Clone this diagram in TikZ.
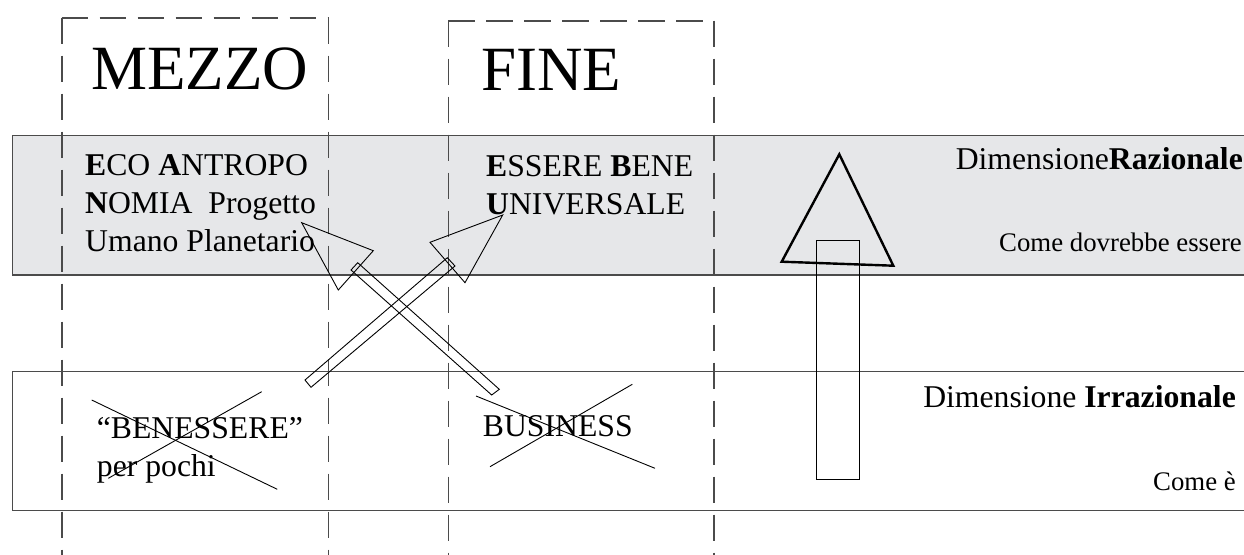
\documentclass[tikz,border=0pt]{standalone}
\usepackage{fontspec}
\setmainfont{Liberation Serif}
\definecolor{bandgray}{RGB}{230,231,233}
\definecolor{rimgray}{RGB}{75,75,75}

\begin{document}
\begin{tikzpicture}[x=1pt,y=-1pt,
	txt/.style={inner sep=0pt, anchor=base west, font=\fontsize{31.7}{38.3}\selectfont},
	bigtxt/.style={inner sep=0pt, anchor=base west, font=\fontsize{63}{70}\selectfont},
	smalltxt/.style={inner sep=0pt, anchor=base east, font=\fontsize{26.8}{32}\selectfont},
	colbox/.style={draw=rimgray, line width=1.6pt, dash pattern=on 26.5pt off 11.5pt},
	band/.style={draw=rimgray, line width=1.4pt},
	hollow/.style={draw=black, line width=0.9pt, line join=miter},
	strike/.style={draw=black, line width=0.9pt}]
					\useasboundingbox (0,0) rectangle (1244,554);
					\fill[bandgray] (12.7,135.7) rectangle (1270,275);
					\draw[band] (1270,135.7) -- (12.7,135.7) -- (12.7,275) -- (1270,275);
					\draw[band] (1270,371.3) -- (12.7,371.3) -- (12.7,510.7) -- (1270,510.7);
					\draw[colbox] (61.7,17.7) -- (328.3,17.7);
					\draw[colbox] (61.7,17.7) -- (61.7,580);
					\draw[colbox] (328.3,17.7) -- (328.3,580);
					\draw[colbox] (448.3,20.7) -- (714,20.7);
					\draw[colbox] (448.3,20.7) -- (448.3,580);
					\draw[colbox] (714,20.7) -- (714,580);
					\node[bigtxt] (mezzo) at (91,89.3) {MEZZO};
					\node[bigtxt] (fine) at (481,90) {FINE};
					\node[txt, align=left] (eco) at (85,251.7) {\textbf{E}CO \textbf{A}NTROPO\\\textbf{N}OMIA\ \ Progetto\\Umano Planetario};
					\node[txt, align=left] (bene) at (486,214.3) {\textbf{E}SSERE \textbf{B}ENE\\\textbf{U}NIVERSALE};
					\node[txt, anchor=base east] (razionale) at (1243,169.3) {Dimensione\textbf{Razionale}};
					\node[smalltxt] (dovrebbe) at (1242,251.7) {Come dovrebbe essere};
					\node[txt, anchor=base east] (irrazionale) at (1236,407.3) {Dimensione \textbf{Irrazionale}};
					\node[smalltxt] (come) at (1236,490.7) {Come è};
					\node[txt, align=left] (benessere) at (96.7,476.7) {“BENESSERE”\\per pochi};
					\node[txt] (business) at (482.7,436.7) {BUSINESS};
					\draw[strike] (91.7,400) -- (277.3,489.3);
					\draw[strike] (261.7,391.7) -- (108.3,478.3);
					\draw[strike] (476,396) -- (655,468.3);
					\draw[strike] (632.3,384.3) -- (490,466.7);
					\draw[hollow] (301.7,222.7) -- (373.3,250.7) -- (338.3,290) -- cycle;
					\draw[hollow] (351,270) -- (357.7,262.7) -- (499.3,389.3) -- (491.7,395) -- cycle;
					\draw[hollow] (502.7,215) -- (430,242.3) -- (465,282.7) -- cycle;
					\draw[hollow] (447.3,257.7) -- (455,266) -- (311,387.3) -- (305,380) -- cycle;
					\draw[line width=2.4pt, line join=miter] (781.7,261.7) -- (839.3,154.3) -- (893.3,265.7) -- cycle;
					\draw[line width=1pt] (816.7,240.7) rectangle (859.3,479);
				\end{tikzpicture}
\end{document}
